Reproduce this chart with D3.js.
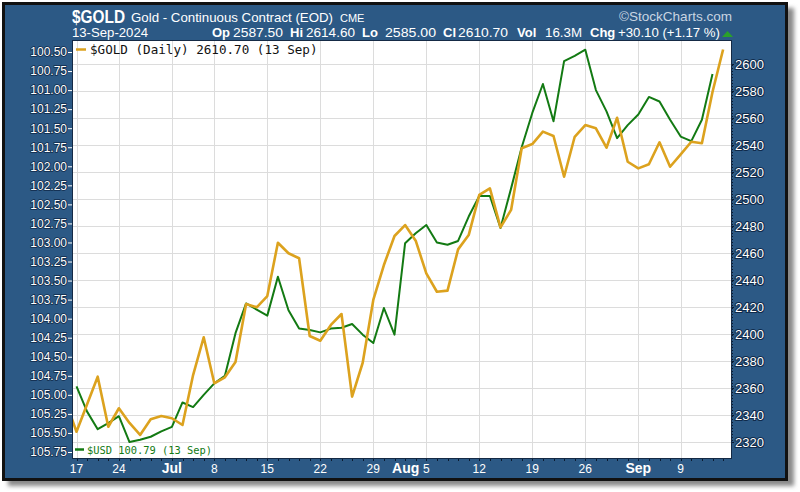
<!DOCTYPE html>
<html><head><meta charset="utf-8">
<script src="https://cdn.jsdelivr.net/npm/d3@7/dist/d3.min.js"></script>
<style>body{margin:0;background:#fff}svg{display:block}</style>
</head><body><svg id="c" width="800" height="492"></svg>
<script>
// trading days (Jun 14 partly off-plot on the left)
const dates = ["2024-06-14","2024-06-17","2024-06-18","2024-06-20","2024-06-21","2024-06-24","2024-06-25","2024-06-26","2024-06-27","2024-06-28",
"2024-07-01","2024-07-02","2024-07-03","2024-07-05","2024-07-08","2024-07-09","2024-07-10","2024-07-11","2024-07-12",
"2024-07-15","2024-07-16","2024-07-17","2024-07-18","2024-07-19","2024-07-22","2024-07-23","2024-07-24","2024-07-25","2024-07-26",
"2024-07-29","2024-07-30","2024-07-31","2024-08-01","2024-08-02","2024-08-05","2024-08-06","2024-08-07","2024-08-08","2024-08-09",
"2024-08-12","2024-08-13","2024-08-14","2024-08-15","2024-08-16","2024-08-19","2024-08-20","2024-08-21","2024-08-22","2024-08-23",
"2024-08-26","2024-08-27","2024-08-28","2024-08-29","2024-08-30","2024-09-03","2024-09-04","2024-09-05","2024-09-06",
"2024-09-09","2024-09-10","2024-09-11","2024-09-12","2024-09-13"];
const goldValues = [2349.6,2327.6,2348.0,2368.4,2331.3,2345.0,2334.1,2325.2,2336.8,2339.3,
2337.6,2332.6,2369.6,2397.6,2363.5,2367.9,2379.3,2422.2,2419.8,
2428.1,2467.6,2459.8,2456.1,2398.5,2395.0,2406.7,2414.8,2353.6,2378.7,
2425.2,2451.1,2472.6,2480.7,2469.1,2444.9,2431.3,2432.1,2462.7,2473.3,
2503.0,2507.9,2479.0,2491.9,2537.6,2540.7,2549.9,2546.7,2516.5,2546.1,
2554.8,2552.4,2538.0,2560.2,2527.6,2522.7,2525.7,2542.0,2523.9,
2533.1,2542.4,2541.3,2579.3,2610.7];
const usdValues = [null,104.89,105.22,105.45,105.37,105.28,105.62,105.59,105.55,105.48,
105.42,105.10,105.16,105.00,104.85,104.75,104.19,103.80,103.88,
103.96,103.45,103.89,104.13,104.15,104.18,104.13,104.12,104.07,104.21,
104.32,103.86,104.21,103.01,102.88,102.77,103.00,103.03,102.98,102.66,
102.39,102.39,102.81,102.29,101.75,101.30,100.92,101.41,100.62,100.55,
100.47,101.00,101.28,101.63,101.46,101.32,101.09,101.15,101.39,
101.61,101.67,101.39,100.79,null];
const weekTicks = ["2024-06-17","2024-06-24","2024-07-01","2024-07-08","2024-07-15","2024-07-22","2024-07-29","2024-08-05","2024-08-12","2024-08-19","2024-08-26","2024-09-03","2024-09-09"];
const weekLabels = ["17","24","Jul","8","15","22","29","5","12","19","26","Sep","9"];
const monthPrefix = {"2024-08-05":"Aug"};
const usdTicks = [100.50,100.75,101.00,101.25,101.50,101.75,102.00,102.25,102.50,102.75,103.00,103.25,103.50,103.75,104.00,104.25,104.50,104.75,105.00,105.25,105.50,105.75];
const goldTicks = [2320,2340,2360,2380,2400,2420,2440,2460,2480,2500,2520,2540,2560,2580,2600];
const statLabels = ["Op","Hi","Lo","Cl","Vol","Chg"];
const statValues = ["2587.50","2614.60","2585.00","2610.70","16.3M","+30.10 (+1.17 %)"];

const svg = d3.select("#c");
const BLUE = "#2c5985";
const P = {l:72, r:732, t:40, b:459};

// frame with shadow
const defs = svg.append("defs");
defs.append("filter").attr("id","blur").append("feGaussianBlur").attr("stdDeviation",2);
defs.append("clipPath").attr("id","clip").append("rect").attr("x",P.l).attr("y",P.t).attr("width",P.r-P.l).attr("height",P.b-P.t);
svg.append("rect").attr("x",8).attr("y",8).attr("width",786).attr("height",478).attr("fill","#8a8a8a").attr("filter","url(#blur)");
svg.append("rect").attr("x",3.5).attr("y",3.5).attr("width",783).attr("height",476).attr("fill",BLUE).attr("stroke","#111").attr("stroke-width",3);

// plot area
svg.append("rect").attr("x",P.l).attr("y",P.t).attr("width",P.r-P.l).attr("height",P.b-P.t).attr("fill","#fff");

const idx = new Map(dates.map((d,i)=>[d,i-1]));
const x = d3.scaleLinear().domain([0,61]).range([76.5,723.1]);
const yG = d3.scaleLinear().domain([2320,2600]).range([442,64]);
const yU = d3.scaleLinear().domain([100.5,105.75]).range([52,452]);

// gridlines
const grid = svg.append("g").attr("stroke","#dcdcdc").attr("stroke-width",1);
grid.selectAll("line.h").data(goldTicks).join("line").attr("class","h")
  .attr("x1",P.l).attr("x2",P.r).attr("y1",d=>Math.round(yG(d))+0.5).attr("y2",d=>Math.round(yG(d))+0.5);
grid.selectAll("line.v").data(weekTicks).join("line").attr("class","v")
  .attr("y1",P.t).attr("y2",P.b).attr("x1",d=>Math.round(x(idx.get(d)))+0.5).attr("x2",d=>Math.round(x(idx.get(d)))+0.5);

// lines
const pts = dates.map((d,i)=>({i:i-1,g:goldValues[i],u:usdValues[i]}));
const gl = svg.append("g").attr("clip-path","url(#clip)");
gl.append("path").datum(pts.filter(p=>p.u!=null))
  .attr("d",d3.line().x(p=>x(p.i)).y(p=>yU(p.u)))
  .attr("fill","none").attr("stroke","#137a13").attr("stroke-width",2).attr("stroke-linejoin","round");
gl.append("path").datum(pts)
  .attr("d",d3.line().x(p=>x(p.i)).y(p=>yG(p.g)))
  .attr("fill","none").attr("stroke","#dca21e").attr("stroke-width",2.6).attr("stroke-linejoin","round");

// plot border
svg.append("rect").attr("x",P.l+0.5).attr("y",P.t+0.5).attr("width",P.r-P.l-1).attr("height",P.b-P.t-1).attr("fill","none").attr("stroke","#152a45");

// minor ticks bottom (each trading day)
svg.append("g").selectAll("line").data(dates.slice(1)).join("line")
  .attr("x1",d=>Math.round(x(idx.get(d)))+0.5).attr("x2",d=>Math.round(x(idx.get(d)))+0.5)
  .attr("y1",P.b).attr("y2",P.b+2).attr("stroke","#0b1b30");

// left axis
const yAxisL = d3.axisLeft(yU).tickValues(usdTicks).tickFormat(d3.format(".2f")).tickSize(4).tickPadding(1);
const gL = svg.append("g").attr("transform",`translate(${P.l},0)`).call(yAxisL);
gL.select(".domain").remove();
gL.selectAll("line").attr("stroke","#fff");
gL.selectAll("text").attr("fill","#fff").attr("font-family","Liberation Sans, Arial, sans-serif").attr("font-size",12)
  .attr("stroke","#0f2a4a").attr("stroke-width",1.5).attr("paint-order","stroke");

// right axis
const yAxisR = d3.axisRight(yG).tickValues(goldTicks).tickFormat(d3.format("d")).tickSize(2).tickPadding(1);
const gR = svg.append("g").attr("transform",`translate(${P.r},0)`).call(yAxisR);
gR.select(".domain").attr("stroke","#0b1b30").attr("stroke-dasharray","1,2");
gR.selectAll("line").attr("stroke","#0b1b30");
gR.selectAll("text").attr("fill","#fff").attr("font-family","Liberation Sans, Arial, sans-serif").attr("font-size",13)
  .attr("stroke","#0f2a4a").attr("stroke-width",2).attr("paint-order","stroke");

// bottom axis labels
const xl = svg.append("g").attr("font-family","Liberation Sans, Arial, sans-serif").attr("fill","#fff");
weekTicks.forEach((d,k)=>{
  const lab = weekLabels[k];
  const isMonth = isNaN(+lab);
  xl.append("text").attr("x",x(idx.get(d))).attr("y",473).attr("text-anchor","middle")
    .attr("font-size",isMonth?14:12).attr("font-weight",isMonth?"bold":"normal").text(lab);
  if (monthPrefix[d]) {
    xl.append("text").attr("x",x(idx.get(d))-7).attr("y",473).attr("text-anchor","end")
      .attr("font-size",14).attr("font-weight","bold").text(monthPrefix[d]);
  }
});

// legends
svg.append("line").attr("x1",76).attr("x2",86).attr("y1",49.5).attr("y2",49.5).attr("stroke","#dca21e").attr("stroke-width",2.5);
svg.append("text").attr("x",90).attr("y",54).attr("font-family","DejaVu Sans Mono, monospace").attr("font-size",12.6).attr("fill","#111")
  .text(`$GOLD (Daily) ${goldValues[goldValues.length-1].toFixed(2)} (13 Sep)`);
svg.append("line").attr("x1",75).attr("x2",84).attr("y1",449.5).attr("y2",449.5).attr("stroke","#137a13").attr("stroke-width",2.5);
svg.append("text").attr("x",87).attr("y",453.5).attr("font-family","DejaVu Sans Mono, monospace").attr("font-size",10.4).attr("fill","#137a13")
  .text(`$USD ${usdValues[usdValues.length-2].toFixed(2)} (13 Sep)`);

// header
const F = "Liberation Sans, Arial, sans-serif";
svg.append("text").attr("x",72).attr("y",23).attr("font-family",F).attr("font-size",19).attr("font-weight","bold").attr("fill","#fff")
  .attr("textLength",53).attr("lengthAdjust","spacingAndGlyphs").text("$GOLD");
svg.append("text").attr("x",131).attr("y",22).attr("font-family",F).attr("font-size",13).attr("fill","#fff")
  .attr("textLength",202).attr("lengthAdjust","spacingAndGlyphs").text("Gold - Continuous Contract (EOD)");
svg.append("text").attr("x",340).attr("y",22).attr("font-family",F).attr("font-size",11).attr("fill","#fff").text("CME");
svg.append("text").attr("x",619).attr("y",21).attr("font-family",F).attr("font-size",13).attr("fill","#c9d5e2")
  .attr("textLength",113).attr("lengthAdjust","spacingAndGlyphs").text("\u00A9StockCharts.com");
svg.append("text").attr("x",72).attr("y",37).attr("font-family",F).attr("font-size",12.5).attr("fill","#fff")
  .attr("textLength",76).attr("lengthAdjust","spacingAndGlyphs").text("13-Sep-2024");
const labelX = [212,290,362,443,517,590];
const valueX = [233,306,385,458,545,618];
const valueW = [50,49,51,50,37,102];
statLabels.forEach((l,k)=>{
  svg.append("text").attr("x",labelX[k]).attr("y",37).attr("font-family",F).attr("font-size",13).attr("font-weight","bold").attr("fill","#fff").text(l);
  svg.append("text").attr("x",valueX[k]).attr("y",37).attr("font-family",F).attr("font-size",12.5).attr("fill","#fff")
    .attr("textLength",valueW[k]).attr("lengthAdjust","spacingAndGlyphs").text(statValues[k]);
});
svg.append("path").attr("d","M722,37 L733,37 L727.5,31 Z").attr("fill","#2aa02a");
</script></body></html>
